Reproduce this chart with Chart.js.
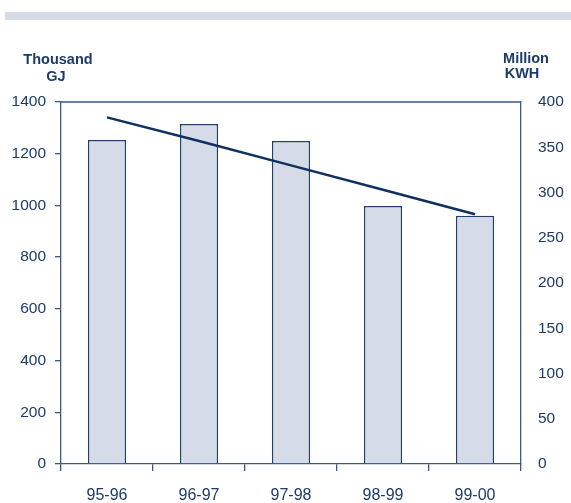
<!DOCTYPE html>
<html>
<head>
<meta charset="utf-8">
<script src="https://cdn.jsdelivr.net/npm/chart.js@4/dist/chart.umd.min.js"></script>
<style>
  html, body { margin: 0; padding: 0; background: #fff; }
  #wrap { position: relative; width: 571px; height: 503px; }
  #band { position: absolute; left: 5px; top: 12px; width: 566px; height: 8px; background: #d6dce6; }
  #chart { position: absolute; left: 0; top: 0; }
</style>
</head>
<body>
<div id="wrap">
  <div id="band"></div>
  <canvas id="chart" width="571" height="503"></canvas>
</div>
<script>
// data
var years = ["95-96", "96-97", "97-98", "98-99", "99-00"];
var thousandGJ = [1253, 1315, 1249, 998, 960];      // bars, left axis
var millionKWH = [383, 357, 330, 303, 276];         // line, right axis
var leftAxis = { min: 0, max: 1400, step: 200 };
var rightAxis = { min: 0, max: 400, step: 50 };

var navy = '#1c3b6b';
var axisColor = '#3b5888';
var font = "'Liberation Sans', Arial, sans-serif";

// top frame line + axis captions
var frameAndTitles = {
    id: 'frameAndTitles',
    afterDraw: function (chart) {
        var ctx = chart.ctx, a = chart.chartArea;
        ctx.save();
        ctx.strokeStyle = axisColor;
        ctx.lineWidth = 1.3;
        ctx.beginPath();
        ctx.moveTo(a.left, a.top);
        ctx.lineTo(a.right, a.top);
        ctx.stroke();

        ctx.fillStyle = navy;
        ctx.font = 'bold 14.5px ' + font;
        ctx.textAlign = 'center';
        ctx.textBaseline = 'alphabetic';
        ctx.fillText('Thousand', a.left - 3, 64);
        ctx.fillText('GJ', a.left - 5, 81);
        ctx.fillText('Million', a.right + 5, 63);
        ctx.fillText('KWH', a.right + 1, 78);
        ctx.restore();
    }
};

function plain(v) { return String(v); }

var ctx = document.getElementById("chart");
var energyChart = new Chart(ctx, {
    type: 'bar',
    data: {
        labels: years,
        datasets: [{
            type: 'bar',
            label: 'Thousand GJ',
            data: thousandGJ,
            yAxisID: 'y',
            backgroundColor: '#d5dbe7',
            borderColor: '#22406e',
            borderWidth: 1.5,
            barPercentage: 0.415,
            categoryPercentage: 1,
            order: 2
        }, {
            type: 'line',
            label: 'Million KWH',
            data: millionKWH,
            yAxisID: 'y1',
            borderColor: '#10305f',
            borderWidth: 2.5,
            pointRadius: 0,
            tension: 0,
            fill: false,
            order: 1
        }]
    },
    options: {
        responsive: false,
        animation: false,
        layout: { padding: { top: 102, left: 0, right: 0, bottom: 0 } },
        plugins: {
            legend: { display: false },
            title: { display: false },
            tooltip: { enabled: false }
        },
        scales: {
            x: {
                offset: true,
                grid: { offset: true, drawOnChartArea: false, tickLength: 7, color: axisColor, lineWidth: 1.3 },
                border: { display: true, color: axisColor, width: 1.3 },
                ticks: { color: navy, font: { family: font, size: 16 }, padding: 15, maxRotation: 0 },
                afterFit: function (s) { s.height = 39; }
            },
            y: {
                position: 'left',
                min: leftAxis.min,
                max: leftAxis.max,
                grid: { drawOnChartArea: false, tickLength: 6, color: axisColor, lineWidth: 1.3 },
                border: { display: true, color: axisColor, width: 1.3 },
                ticks: { stepSize: leftAxis.step, color: navy, font: { family: font, size: 15.5 }, padding: 9, callback: plain },
                afterFit: function (s) { s.width = 61; }
            },
            y1: {
                position: 'right',
                min: rightAxis.min,
                max: rightAxis.max,
                grid: { drawOnChartArea: false, drawTicks: false },
                border: { display: true, color: axisColor, width: 1.3 },
                ticks: { stepSize: rightAxis.step, color: navy, font: { family: font, size: 15.5 }, padding: 17, callback: plain },
                afterFit: function (s) { s.width = 50; }
            }
        }
    },
    plugins: [frameAndTitles]
});
</script>
</body>
</html>
